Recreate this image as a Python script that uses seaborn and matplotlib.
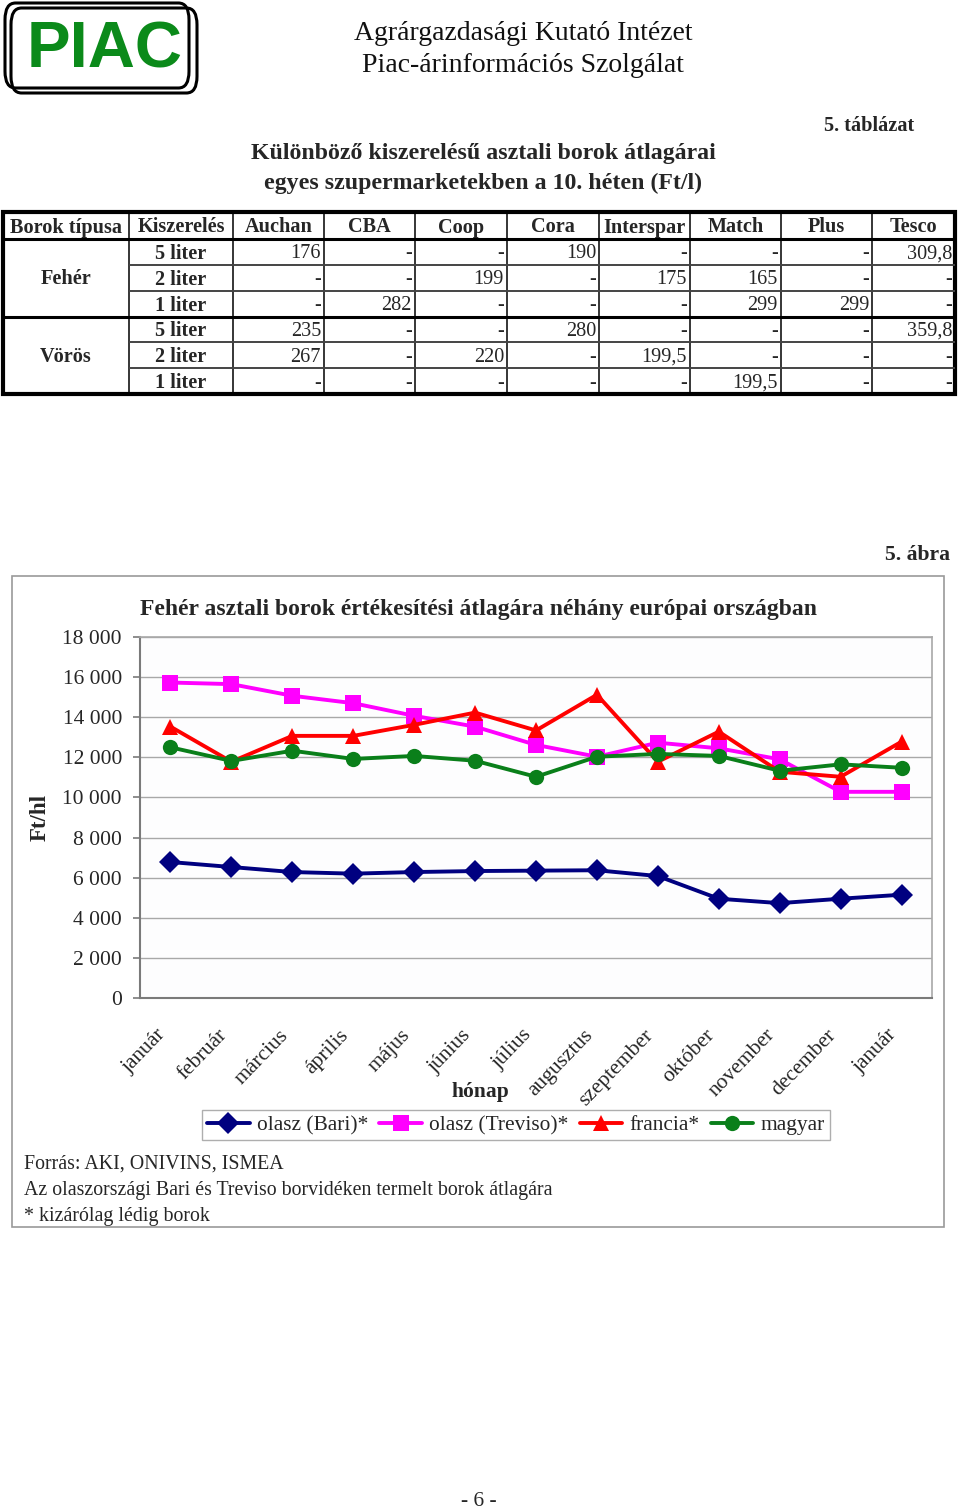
import numpy as np
import pandas as pd
import matplotlib
matplotlib.use("Agg")
import matplotlib.pyplot as plt
import matplotlib.transforms as mtransforms
import seaborn as sns
from matplotlib.patches import FancyBboxPatch, Rectangle

# ---------------- data ----------------
months = ["január", "február", "március", "április", "május", "június", "július",
          "augusztus", "szeptember", "október", "november", "december", "január"]
bari = [6780, 6530, 6280, 6200, 6280, 6330, 6350, 6370, 6080, 4950, 4730, 4950, 5150]
treviso = [15730, 15650, 15070, 14700, 14070, 13530, 12620, 12030, 12730, 12450, 11900, 10280, 10280]
francia = [13530, 11780, 13070, 13070, 13620, 14230, 13340, 15120, 11780, 13280, 11280, 11030, 12780]
magyar = [12500, 11820, 12330, 11920, 12070, 11830, 11030, 12030, 12170, 12070, 11330, 11650, 11480]
series_names = ["olasz (Bari)*", "olasz (Treviso)*", "francia*", "magyar"]
y_ticks = [0, 2000, 4000, 6000, 8000, 10000, 12000, 14000, 16000, 18000]

stores = ["Auchan", "CBA", "Coop", "Cora", "Interspar", "Match", "Plus", "Tesco"]
wine_types = ["Fehér", "Vörös"]
pack_sizes = ["5 liter", "2 liter", "1 liter"]
feher_prices = [[176, None, None, 190, None, None, None, 309.8],
                [None, None, 199, None, 175, 165, None, None],
                [None, 282, None, None, None, 299, 299, None]]
voros_prices = [[235, None, None, 280, None, None, None, 359.8],
                [267, None, 220, None, 199.5, None, None, None],
                [None, None, None, None, None, 199.5, None, None]]

# ---------------- style ----------------
sns.set_theme(style="white")
plt.rcParams["font.family"] = ["Liberation Serif", "DejaVu Serif"]

W, H = 960, 1511
fig = plt.figure(figsize=(W / 100, H / 100), dpi=100)
fig.patch.set_facecolor("white")


def fx(x):
    return x / W


def fy(y):
    return 1 - y / H


def ax_rect(x0, y0, x1, y1):
    return [fx(x0), fy(y1), fx(x1) - fx(x0), fy(y0) - fy(y1)]


# ---------------- header ----------------
for (x0, y0, x1, y1) in [(5, 3, 189, 88), (11, 8, 197, 93)]:
    fig.patches.append(FancyBboxPatch((fx(x0), fy(y1)), fx(x1) - fx(x0), fy(y0) - fy(y1),
                                      boxstyle="round,pad=0,rounding_size=0.011",
                                      transform=fig.transFigure, fill=False,
                                      edgecolor="black", linewidth=2.2))
fig.text(fx(105), fy(50), "PIAC", family="Liberation Sans", fontweight="bold",
         fontsize=47, color="#0b8a1a", ha="center", va="center")
fig.text(fx(523), fy(33), "Agrárgazdasági Kutató Intézet", fontsize=20,
         ha="center", va="center", color="#111111")
fig.text(fx(523), fy(65), "Piac-árinformációs Szolgálat", fontsize=20,
         ha="center", va="center", color="#111111")

fig.text(fx(914), fy(126), "5. táblázat", fontsize=14.6, fontweight="bold",
         ha="right", va="center")
fig.text(fx(483), fy(154), "Különböző kiszerelésű asztali borok átlagárai", fontsize=17.2,
         fontweight="bold", ha="center", va="center")
fig.text(fx(483), fy(183), "egyes szupermarketekben a 10. héten (Ft/l)", fontsize=17.2,
         fontweight="bold", ha="center", va="center")

# ---------------- table ----------------
tx0, ty0, tx1, ty1 = 3, 212, 955, 394
tax = fig.add_axes(ax_rect(tx0, ty0, tx1, ty1))
tax.set_xlim(tx0, tx1)
tax.set_ylim(ty1, ty0)
tax.axis("off")
col_edges = [3, 129, 233, 324, 415, 507, 599, 690, 781, 872, 955]
row_edges = [212, 239, 265, 291, 317, 342, 368, 394]
TFS = 14.6

header = ["Borok típusa", "Kiszerelés"] + stores
for i, h in enumerate(header):
    tax.text((col_edges[i] + col_edges[i + 1]) / 2, (row_edges[0] + row_edges[1]) / 2 + 2, h,
             fontsize=TFS, fontweight="bold", ha="center", va="center")


def fmt(v):
    return "-" if v is None else f"{v:g}".replace(".", ",")


for g, (wt, block) in enumerate(zip(wine_types, [feher_prices, voros_prices])):
    rtop = 1 + 3 * g
    tax.text((col_edges[0] + col_edges[1]) / 2, (row_edges[rtop] + row_edges[rtop + 3]) / 2 + 1,
             wt, fontsize=TFS, fontweight="bold", ha="center", va="center")
    for r in range(3):
        ri = rtop + r
        yc = (row_edges[ri] + row_edges[ri + 1]) / 2 + 2
        tax.text((col_edges[1] + col_edges[2]) / 2, yc, pack_sizes[r], fontsize=TFS,
                 fontweight="bold", ha="center", va="center")
        for c, v in enumerate(block[r]):
            tax.text(col_edges[c + 3] - 3, yc, fmt(v), fontsize=TFS, ha="right", va="center")

# grid lines
tax.vlines(col_edges[1:-1], row_edges[0], row_edges[-1], color="black", lw=1.1)
tax.hlines([row_edges[2], row_edges[3], row_edges[5], row_edges[6]], col_edges[1], col_edges[-1],
           color="#444444", lw=1.4)
tax.hlines([row_edges[1], row_edges[4]], col_edges[0], col_edges[-1], color="black", lw=2.2)
tax.add_patch(Rectangle((tx0, ty0), tx1 - tx0, ty1 - ty0, fill=False, edgecolor="black",
                        lw=3.0, clip_on=False))

# ---------------- chart frame ----------------
fig.patches.append(Rectangle((fx(12), fy(1227)), fx(944) - fx(12), fy(576) - fy(1227),
                             transform=fig.transFigure, fill=False, edgecolor="#9a9a9a", lw=1.2))
fig.text(fx(950), fy(555), "5. ábra", fontsize=15.6, fontweight="bold", ha="right", va="center")

# ---------------- chart ----------------
ax = fig.add_axes(ax_rect(140, 637, 932, 998))
x = np.arange(len(months))
df = pd.DataFrame({
    "x": np.tile(x, 4),
    "value": bari + treviso + francia + magyar,
    "series": np.repeat(series_names, len(months)),
})
palette = {series_names[0]: "#000080", series_names[1]: "#FF00FF",
           series_names[2]: "#FF0000", series_names[3]: "#0A7F1A"}
markers = {series_names[0]: "D", series_names[1]: "s",
           series_names[2]: "^", series_names[3]: "o"}
sns.lineplot(data=df, x="x", y="value", hue="series", style="series", palette=palette,
             markers=markers, dashes=False, linewidth=2.8, markersize=11,
             markeredgewidth=0, ax=ax, legend=True, zorder=3)

ax.set_xlim(-0.5, len(months) - 0.5)
ax.set_ylim(0, 18000)
ax.set_yticks(y_ticks)
ax.set_yticklabels([f"{v:,}".replace(",", " ") for v in y_ticks], fontsize=15.5)
ax.set_xticks(x)
ax.set_xticklabels(months, fontsize=15.5, rotation=46, ha="right", rotation_mode="anchor")
ax.set_xticks(np.arange(-0.5, len(months)), minor=True)
ax.tick_params(axis="x", which="major", length=0, pad=20)
ax.tick_params(axis="x", which="minor", length=5, color="#808080", direction="out")
ax.tick_params(axis="y", length=5, color="#808080", direction="out", pad=8, left=True)
shift = mtransforms.ScaledTranslation(-14 / 100, 0, fig.dpi_scale_trans)
for lab in ax.get_xticklabels():
    lab.set_transform(lab.get_transform() + shift)
ax.yaxis.grid(True, color="#a8a8a8", lw=1)
ax.xaxis.grid(False)
ax.set_facecolor("#fdfdfe")
ax.set_xlabel("")
ax.set_ylabel("")
for s in ["left", "bottom"]:
    ax.spines[s].set_color("#7a7a7a")
    ax.spines[s].set_linewidth(1.5)
for s in ["top", "right"]:
    ax.spines[s].set_color("#a8a8a8")
    ax.spines[s].set_linewidth(1.2)

handles, labels = ax.get_legend_handles_labels()
ax.get_legend().remove()
leg = fig.legend(handles, labels, loc="center", bbox_to_anchor=(fx(516), fy(1125)),
                 ncol=4, fontsize=15.4, frameon=True, fancybox=False, edgecolor="#9a9a9a",
                 handlelength=2.0, handletextpad=0.35, columnspacing=0.5, borderpad=0.25,
                 borderaxespad=0)
leg.get_frame().set_linewidth(1.0)

fig.text(fx(140), fy(610), "Fehér asztali borok értékesítési átlagára néhány európai országban",
         fontsize=17, fontweight="bold", ha="left", va="center")
fig.text(fx(40), fy(817), "Ft/hl", fontsize=16.5, fontweight="bold", rotation=90,
         ha="center", va="center")
fig.text(fx(480), fy(1092), "hónap", fontsize=15.5, fontweight="bold", ha="center", va="center")

fig.text(fx(24), fy(1164), "Forrás: AKI, ONIVINS, ISMEA", fontsize=14.3, ha="left", va="center")
fig.text(fx(24), fy(1190), "Az olaszországi Bari és Treviso borvidéken termelt borok átlagára",
         fontsize=14.3, ha="left", va="center")
fig.text(fx(24), fy(1216), "* kizárólag lédig borok", fontsize=14.3, ha="left", va="center")

fig.text(fx(479), fy(1501), "- 6 -", fontsize=15.5, ha="center", va="center")

fig.savefig("out.png", dpi=100)
